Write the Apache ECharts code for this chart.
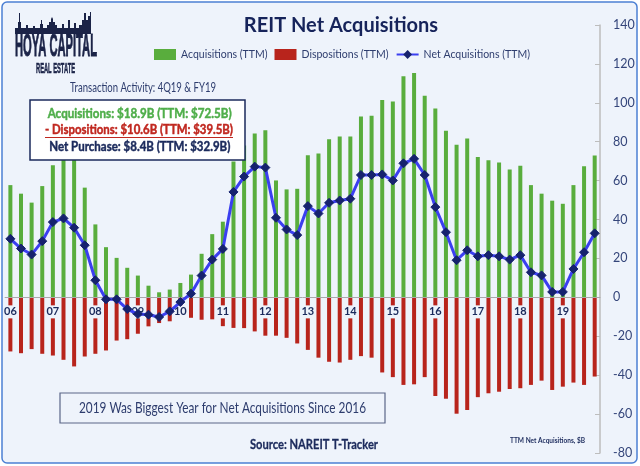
<!DOCTYPE html>
<html><head><meta charset="utf-8">
<script src="https://cdn.jsdelivr.net/npm/echarts@6/dist/echarts.min.js"></script>
<style>html,body{margin:0;padding:0;background:#fff}#c{width:640px;height:466px}</style>
</head><body><div id="c"></div>
<script>
// ---- data ----
const years = ['06','07','08','09','10','11','12','13','14','15','16','17','18','19'];
const quarters = ['Q1','Q2','Q3','Q4'];
const acquisitions = [57.7,53.3,48.7,57.2, 67.9,72.7,71.3,56.4, 37.5,25.8,20.3,15.2, 11.2,6.0,2.6,4.0,
  7.4,11.7,22.4,32.5, 38.9,69.8,78.0,84.2, 85.9,60.1,55.5,55.8, 73.0,73.9,81.3,82.7,
  82.7,93.0,93.3,101.4, 100.7,113.7,115.3,103.6, 97.1,85.6,78.5,81.6, 72.2,70.5,69.3,65.7,
  67.7,57.7,53.3,49.7, 48.1,57.7,67.4,72.9];
const dispositions = [-27.8,-28.7,-26.6,-29.0, -29.9,-32.1,-35.5,-30.4, -29.0,-27.3,-22.2,-21.5, -18.7,-14.9,-13.2,-12.3,
  -10.6,-10.5,-11.5,-11.3, -14.8,-15.7,-15.8,-17.5, -19.7,-19.7,-20.8,-23.7, -27.0,-31.0,-33.1,-33.5,
  -32.1,-30.2,-31.0,-38.6, -41.0,-45.0,-44.7,-41.0, -50.7,-52.1,-59.8,-57.9, -51.3,-49.3,-48.5,-47.1,
  -46.7,-45.0,-42.8,-47.6, -45.9,-43.8,-45.0,-40.7];
const netAcquisitions = [30.1,25.1,22.0,28.9, 38.7,40.6,35.8,26.8, 8.8,-1.0,-1.0,-6.0, -8.6,-8.9,-10.1,-7.2,
  -2.4,1.9,11.2,19.4, 24.9,54.2,62.1,67.2, 66.7,40.9,34.9,32.0, 46.9,43.1,48.6,49.8,
  50.7,62.9,62.9,63.2, 60.1,68.9,71.2,62.9, 46.4,33.5,19.1,24.2, 21.1,21.7,21.1,19.4,
  21.7,12.9,11.3,2.8, 2.8,14.6,23.2,32.9];
const yMin = -80, yMax = 140, yStep = 20;
const seriesNames = ['Acquisitions (TTM)','Dispositions (TTM)','Net Acquisitions (TTM)'];
const categories = [];
years.forEach(y => quarters.forEach(q => categories.push(q + '-' + y)));

// ---- style / layout ----
const FONT = 'Lato,"Liberation Sans",sans-serif';
const BG = '#eef3fb', NAVY = '#1b2a5c', TXT = '#2e3d6e';
const GREEN = '#59ad3d', RED = '#b8241c', BLUE = '#3b3ff0', MARK = '#16226e';
const W = 640, H = 466;
const gridTop = 25, gridBottom = 13;
const plotH = H - gridTop - gridBottom;
// move the category axis from the bottom of the grid up to the value 0
const zeroOffset = -plotH * (0 - yMin) / (yMax - yMin);

const measureCtx = document.createElement('canvas').getContext('2d');
function fit(text, font, width) { measureCtx.font = font; return width / measureCtx.measureText(text).width; }
function fitText(text, font, width, x, y, fill, bold) {
  const s = fit(text, font, width);
  const st = {text:text, font:font, fill:fill, textAlign:'left', textVerticalAlign:'middle'};
  if (bold) { st.stroke = fill; st.lineWidth = bold; }
  return {type:'text', z:51, silent:true, x:x, y:y, scaleX:s, style:st};
}

const chart = echarts.init(document.getElementById('c'), null, {renderer:'canvas'});
const skyline = [[15,34],[15,28],[18,28],[18,22],[19,22],[19,13],[20,13],[20,22],[21,22],[21,28],[26,28],[26,25],[28,25],[28,28],[33,28],[33,26],[35,26],[35,28],[40,28],[40,24],[41,24],[41,20],[42,20],[42,24],[43,24],[43,28],[47,28],[47,25],[49,25],[49,22],[51,22],[51,19],[52,17],[53,19],[53,22],[55,22],[55,25],[57,25],[57,28],[62,28],[62,24],[64,24],[64,28],[68,28],[68,20],[70,20],[70,28],[74,28],[74,23],[76,23],[76,28],[79,28],[79,25],[82,25],[82,20],[84,20],[84,13],[86,13],[86,20],[88,20],[88,16],[90,16],[90,12],[91,12],[91,34]];

const fB = 'bold 12.5px ' + FONT;
chart.setOption({
  animation:false,
  backgroundColor:'#ffffff',
  textStyle:{fontFamily:FONT},
  title:{text:'REIT Net Acquisitions', left:336, top:11, textAlign:'center',
    textStyle:{fontSize:20, fontWeight:'bold', color:'#16235a', fontFamily:FONT}},
  legend:{left:149, top:44, itemWidth:22, itemHeight:11, itemGap:7,
    textStyle:{fontSize:10.5, color:TXT, fontFamily:FONT},
    data:[{name:seriesNames[0], icon:'rect'},{name:seriesNames[1], icon:'rect'},{name:seriesNames[2]}]},
  grid:{left:5, right:40, top:gridTop, bottom:gridBottom, containLabel:false},
  xAxis:{type:'category', data:categories, z:3, offset:zeroOffset,
    axisLine:{onZero:false, lineStyle:{color:'#a9a9a9', width:1}},
    axisTick:{show:false},
    axisLabel:{interval:3, formatter:v => v.split('-')[1], fontSize:11, fontWeight:'bold', color:NAVY,
      backgroundColor:BG, padding:[1,1,1,1], margin:8, fontFamily:FONT}},
  yAxis:{type:'value', position:'right', min:yMin, max:yMax, interval:yStep,
    axisLine:{show:true, lineStyle:{color:'#bdbdbd', width:1.5}},
    axisTick:{show:true, inside:true, length:5, lineStyle:{color:'#bdbdbd'}},
    splitLine:{show:false},
    axisLabel:{margin:13, fontSize:12.5, color:'#34457a', fontFamily:FONT}},
  series:[
    {name:seriesNames[0], type:'bar', stack:'a', barWidth:4, data:acquisitions, itemStyle:{color:GREEN}},
    {name:seriesNames[1], type:'bar', stack:'a', barWidth:4, data:dispositions, itemStyle:{color:RED}},
    {name:seriesNames[2], type:'line', z:4, data:netAcquisitions, symbol:'diamond', symbolSize:9,
      showSymbol:true, showAllSymbol:true,
      lineStyle:{color:BLUE, width:3}, itemStyle:{color:MARK, borderColor:MARK}}
  ],
  graphic:[
    {type:'rect', z:-10, silent:true, shape:{x:2,y:2,width:635,height:461,r:5},
      style:{fill:BG, stroke:'#4c80d4', lineWidth:1.5}},
    // logo
    {type:'polygon', z:50, silent:true, shape:{points:skyline}, style:{fill:'#1b2347'}},
    fitText('HOYA CAPITAL', 'bold 32px "Liberation Sans"', 82, 15, 47.5, '#1b2347', 1),
    fitText('REAL ESTATE', 'bold 15px "Liberation Sans"', 39, 36, 68.5, '#1b2347', 0.6),
    // subtitle + callout
    fitText('Transaction Activity: 4Q19 & FY19', '12.5px ' + FONT, 146, 70, 88, TXT),
    {type:'rect', z:50, silent:true, shape:{x:30,y:100,width:215,height:60},
      style:{fill:'#ffffff', stroke:NAVY, lineWidth:1.5}},
    fitText('Acquisitions: $18.9B (TTM: $72.5B)', fB, 184, 47.7, 114, '#4fae4a', 0.45),
    fitText('- Dispositions: $10.6B (TTM: $39.5B)', fB, 188, 45, 130, '#c0271f', 0.45),
    {type:'line', z:51, silent:true, shape:{x1:45,y1:137.5,x2:233,y2:137.5}, style:{stroke:'#c0271f', lineWidth:1}},
    fitText('Net Purchase: $8.4B (TTM: $32.9B)', fB, 181, 49.3, 147, NAVY, 0.45),
    // bottom note
    {type:'rect', z:50, silent:true, shape:{x:60,y:393,width:325,height:30},
      style:{fill:BG, stroke:'#5a6688', lineWidth:1.2}},
    fitText('2019 Was Biggest Year for Net Acquisitions Since 2016', '15px ' + FONT, 287, 79, 408, TXT),
    fitText('Source: NAREIT T-Tracker', 'bold 14px ' + FONT, 128, 250, 444, NAVY, 0.3),
    fitText('TTM Net Acquisitions, $B', 'bold 7.5px ' + FONT, 75, 510, 441, NAVY)
  ]
});
</script></body></html>
